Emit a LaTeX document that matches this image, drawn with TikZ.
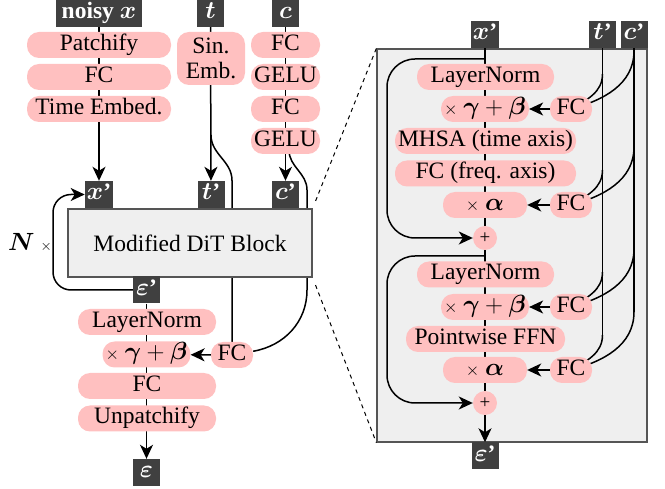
\documentclass[tikz,border=0pt]{standalone}
\usepackage{amsmath,bm}
\usepackage{fontspec}
\setmainfont{Liberation Serif}
\usetikzlibrary{arrows.meta,calc}
\definecolor{pillpink}{HTML}{FFC0C0}
\definecolor{tagdark}{HTML}{404040}
\definecolor{boxgray}{HTML}{EFEFEF}
\definecolor{edgegray}{HTML}{555555}
\pgfdeclarelayer{panelbg}
\pgfdeclarelayer{wires}
\pgfsetlayers{panelbg,wires,main}
\newcommand{\bigtxt}{\fontsize{23.5}{27}\selectfont}
\tikzset{
  pill/.style={fill=pillpink, rounded corners=12pt, minimum height=26pt, text height=15.5pt, text depth=5pt, inner ysep=0pt, inner xsep=3pt, font=\bigtxt},
  tag/.style={fill=tagdark, text=white, minimum height=27pt, minimum width=27pt, text height=15.5pt, text depth=5pt, inner ysep=0pt, inner xsep=2pt, font=\bigtxt\bfseries},
  plusnode/.style={circle, fill=pillpink, minimum size=24pt, inner sep=0pt, font=\fontsize{19}{20}\selectfont},
  blockbox/.style={fill=boxgray, draw=edgegray, line width=1.3pt},
  wire/.style={line width=1.5pt},
  flow/.style={wire, -{Stealth[length=14pt,width=13pt,inset=4pt]}},
  dashline/.style={line width=1pt, dash pattern=on 4pt off 4pt},
}
\begin{document}
\begin{tikzpicture}[x=1pt,y=-1pt]
  \useasboundingbox (0,0) rectangle (665,489);
  % inputs
  \node[tag, minimum width=86pt] (noisy) at (99,13.5) {noisy $\bm{x}$};
  \node[tag] (tin) at (210.5,13.5) {$\bm{t}$};
  \node[tag] (cin) at (285.5,13.5) {$\bm{c}$};
  \node[pill, minimum width=144pt] (patch) at (99,45) {Patchify};
  \node[pill, minimum width=144pt] (fcx) at (99,77) {FC};
  \node[pill, minimum width=144pt] (temb) at (99,109) {Time Embed.};
  \node[fill=pillpink, rounded corners=12pt, align=center, minimum width=68pt, minimum height=53pt, inner sep=2pt, font=\fontsize{23.5}{25}\selectfont] (sin) at (211,58.5) {Sin.\\Emb.};
  \node[pill, minimum width=69pt] (c1) at (285.5,45) {FC};
  \node[pill, minimum width=69pt] (c2) at (285.5,77) {GELU};
  \node[pill, minimum width=69pt] (c3) at (285.5,109) {FC};
  \node[pill, minimum width=69pt] (c4) at (285.5,141) {GELU};
  % DiT block
  \node[tag] (xp) at (99,194.5) {$\bm{x}$'};
  \node[tag] (tp) at (211,194.5) {$\bm{t}$'};
  \node[tag] (cp) at (285.5,194.5) {$\bm{c}$'};
  \node[blockbox, minimum width=244pt, minimum height=68pt, font=\bigtxt] (dit) at (190,243) {Modified DiT Block};
  \node[tag] (epsp) at (146.5,290) {$\bm{\varepsilon}$'};
  \node[font=\bigtxt] (nrep) at (30,243) {$\bm{N}$ {\fontsize{15}{18}\selectfont$\times$}};
  % output head
  \node[pill, minimum width=138pt] (lnL) at (147,322) {LayerNorm};
  \node[pill, minimum width=85pt] (modL) at (146.5,354.5) {$\scriptstyle\times$\ $\bm{\gamma}+\bm{\beta}$};
  \node[pill, minimum width=42pt] (fcL) at (232,355) {FC};
  \node[pill, minimum width=138pt] (fcoL) at (147,386) {FC};
  \node[pill, minimum width=138pt] (unp) at (147,418.5) {Unpatchify};
  \node[tag] (eps) at (146.5,472.5) {$\bm{\varepsilon}$};
  \coordinate (tbr) at (211,135);
  \coordinate (cbr) at (289,150);
  \coordinate (loopc) at (53,194.5);

  % zoomed block
  \begin{pgfonlayer}{panelbg}
    \node[blockbox, minimum width=270pt, minimum height=393pt] (panel) at (512,245.5) {};
  \end{pgfonlayer}
  \node[tag] (xr) at (485,34.5) {$\bm{x}$'};
  \node[tag] (trr) at (602.5,34.5) {$\bm{t}$'};
  \node[tag] (crr) at (634,34.5) {$\bm{c}$'};
  \node[pill, minimum width=137pt] (ln1) at (485.5,77) {LayerNorm};
  \node[pill, minimum width=84pt] (g1) at (485,109) {$\scriptstyle\times$\ $\bm{\gamma}+\bm{\beta}$};
  \node[pill, minimum width=42pt] (f1) at (571,109) {FC};
  \node[pill, minimum width=181pt] (mhsa) at (485.5,141) {MHSA (time axis)};
  \node[pill, minimum width=181pt] (ffreq) at (485.5,173.5) {FC (freq. axis)};
  \node[pill, minimum width=84pt] (a1) at (485,205) {$\scriptstyle\times$\ $\bm{\alpha}$};
  \node[pill, minimum width=42pt] (f2) at (571,205) {FC};
  \node[plusnode] (plus1) at (485,238) {+};
  \node[pill, minimum width=137pt] (ln2) at (485.5,274.5) {LayerNorm};
  \node[pill, minimum width=84pt] (g2) at (485,307) {$\scriptstyle\times$\ $\bm{\gamma}+\bm{\beta}$};
  \node[pill, minimum width=42pt] (f3) at (571,307) {FC};
  \node[pill, minimum width=159pt] (ffn) at (485.5,339) {Pointwise FFN};
  \node[pill, minimum width=84pt] (a2) at (485,370) {$\scriptstyle\times$\ $\bm{\alpha}$};
  \node[pill, minimum width=42pt] (f4) at (571,370) {FC};
  \node[plusnode] (plus2) at (485,403) {+};
  \node[tag] (epsr) at (485,456) {$\bm{\varepsilon}$'};
  \coordinate (res1) at (485,59);
  \coordinate (res2) at (485,256);
  \coordinate (rl) at (387,0);

  \begin{pgfonlayer}{wires}
    % left part
    \draw[flow] (noisy) -- (xp);
    \draw[flow] (tin) -- (tp);
    \draw[flow] (cin) -- (cp);
    \draw[wire] (tbr) to[out=-90,in=90] ($(fcL |- tp)+(0,-14)$) -- (fcL);
    \draw[wire] (cbr) to[out=-90,in=90] (307,190) -- (307,290) to[out=-90,in=10] (fcL);
    \draw[flow, rounded corners=18pt] (epsp) -| (loopc) -- (xp);
    \draw[flow] (epsp) -- (eps);
    \draw[flow] (fcL) -- (modL);
    \draw[dashline, shorten <=8pt] (dit.north east) -- (panel.north west);
    \draw[dashline, shorten <=8pt] (dit.south east) -- (panel.south west);
    % right part
    \draw[wire] (xr) -- (plus1);
    \draw[wire] (plus1) -- (plus2);
    \draw[flow] (plus2) -- (epsr);
    \draw[flow, rounded corners=28pt] (res1) -| (rl |- plus1) -- (plus1);
    \draw[flow, rounded corners=28pt] (res2) -| (rl |- plus2) -- (plus2);
    \draw[wire] (trr) -- ($(trr |- f4)+(0,-35)$);
    \draw[wire] (crr) -- ($(crr |- f4)+(0,-58)$);
    \foreach \f/\g in {f1/g1,f2/a1,f3/g2,f4/a2} {
      \draw[wire] ($(trr |- \f)+(0,-35)$) to[out=-90,in=30] (\f.center);
      \draw[wire] ($(crr |- \f)+(0,-58)$) to[out=-90,in=15] (\f.center);
      \draw[flow] (\f) -- (\g);
    }
  \end{pgfonlayer}
\end{tikzpicture}
\end{document}
